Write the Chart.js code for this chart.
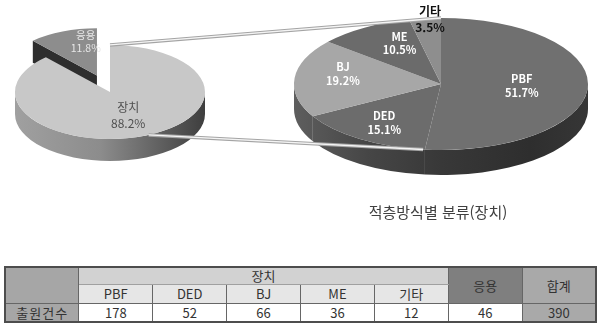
<!DOCTYPE html>
<html lang="ko">
<head>
<meta charset="utf-8">
<script src="https://cdn.jsdelivr.net/npm/chart.js@4"></script>
<style>
    html, body { margin: 0; padding: 0; background: #fff; }
    body { width: 600px; height: 326px; position: relative; overflow: hidden; font-family: "Noto Sans CJK KR", "Noto Sans", sans-serif; }
    .chart-box { position: absolute; left: 0; top: 0; width: 600px; height: 240px; }
    #left-box { z-index: 2; pointer-events: none; }
    #title { position: absolute; left: 338px; top: 202px; width: 200px; text-align: center; font-size: 15px; line-height: 20px; color: #404040; z-index: 3; }
    #tbl { position: absolute; left: 4px; top: 266px; width: 593px; border-collapse: collapse; table-layout: fixed; border: 2px solid #4d4d4d; font-size: 13px; color: #333; z-index: 3; }
    #tbl td { border: 1px solid #666; text-align: center; padding: 0; line-height: 14px; background: #fff; overflow: hidden; }
    #tbl tr.r1 td { height: 16px; }
    #tbl tr.r2 td { height: 18px; }
    #tbl tr.r3 td { height: 17px; }
    #tbl td.corner { background: #a6a6a6; }
    #tbl td.grp { background: #d2d2d2; border-bottom-color: #a0a0a0; }
    #tbl td.sub { background: #e6e6e6; }
    #tbl td.app { background: #7f7f7f; }
    #tbl td.sum { background: #a9a9a9; }
    #tbl td.rowhead { background: #a6a6a6; letter-spacing: 1px; }
</style>
</head>
<body>
<div class="chart-box" id="right-box"><canvas id="rightPie"></canvas></div>
<div class="chart-box" id="left-box"><canvas id="leftPie"></canvas></div>
<div id="title">적층방식별 분류(장치)</div>
<table id="tbl"></table>

<script>
// 데이터 (표 값 기준)
const deviceLabels = ['PBF', 'DED', 'BJ', 'ME', '기타'];
const deviceCounts = [178, 52, 66, 36, 12];
const groupName = '장치';
const appliedName = '응용';
const totalName = '합계';
const rowName = '출원건수';
const appliedCount = 46;
const totalCount = 390;
const splitLabels = [groupName, appliedName];
const splitCounts = [deviceCounts.reduce((a, b) => a + b, 0), appliedCount];

// 색상
const deviceColors = ['#707070', '#6c6c6c', '#a7a7a7', '#6b6b6b', '#8e8e8e'];
const splitColors = ['#c8c8c8', '#8d8d8d'];

// 파이 위치/크기 (레이아웃)
const LEFT = { cx: 110, cy: 92, r: 95, tilt: 0.495, depth: 22 };
const RIGHT = { cx: 441, cy: 84, r: 147, tilt: 0.449, depth: 25 };

const BOX_W = 600, BOX_H = 240;

// 차트 영역 중심을 원하는 위치에 맞추는 padding
function padFor(cx, cy) {
    return {
        left: Math.max(0, 2 * cx - BOX_W), right: Math.max(0, BOX_W - 2 * cx),
        top: Math.max(0, 2 * cy - BOX_H), bottom: Math.max(0, BOX_H - 2 * cy)
    };
}

// 3D 파이 효과 플러그인 (기울이기 + 옆면 + 라벨)
function makePie3d(geo, cfg) {
    return {
        id: 'pie3d',
        afterDatasetsUpdate(chart) {
            const arcs = chart.getDatasetMeta(0).data;
            (cfg.explode || []).forEach((d, i) => {
                if (!d || !arcs[i]) return;
                const mid = (arcs[i].startAngle + arcs[i].endAngle) / 2;
                arcs[i].x += Math.cos(mid) * d;
                arcs[i].y += Math.sin(mid) * d;
            });
        },
        beforeDatasetsDraw(chart) {
            const ctx = chart.ctx;
            const arcs = chart.getDatasetMeta(0).data;
            const k = geo.tilt, depth = geo.depth;
            const cy = (chart.chartArea.top + chart.chartArea.bottom) / 2;
            const cx = (chart.chartArea.left + chart.chartArea.right) / 2;
            const r = arcs[0].outerRadius;
            const grad = ctx.createLinearGradient(cx - r, 0, cx + r, 0);
            cfg.wallStops.forEach(s => grad.addColorStop(s[0], s[1]));

            ctx.save();
            arcs.forEach((arc, i) => {
                const ex = arc.x, ey = cy + (arc.y - cy) * k;
                // 떨어져 나온 조각의 단면
                if (cfg.explode && cfg.explode[i]) {
                    [[arc.startAngle, -1], [arc.endAngle, 1]].forEach(([a, s]) => {
                        const n = a + s * Math.PI / 2;
                        if (Math.sin(n) <= 0) return;
                        const px = ex + Math.cos(a) * r, py = ey + Math.sin(a) * r * k;
                        ctx.beginPath();
                        ctx.moveTo(ex, ey);
                        ctx.lineTo(px, py);
                        ctx.lineTo(px, py + depth);
                        ctx.lineTo(ex, ey + depth);
                        ctx.closePath();
                        ctx.fillStyle = cfg.faceColor;
                        ctx.fill();
                    });
                }
                // 앞쪽 옆면
                const a1 = Math.max(arc.startAngle, 0), a2 = Math.min(arc.endAngle, Math.PI);
                if (a2 > a1) {
                    ctx.beginPath();
                    ctx.ellipse(ex, ey, r, r * k, 0, a1, a2);
                    ctx.ellipse(ex, ey + depth, r, r * k, 0, a2, a1, true);
                    ctx.closePath();
                    ctx.fillStyle = grad;
                    ctx.fill();
                }
            });
            ctx.restore();

            // 윗면은 세로로 눌러서 그림
            ctx.save();
            ctx.translate(0, cy);
            ctx.scale(1, k);
            ctx.translate(0, -cy);
        },
        afterDatasetsDraw(chart) {
            const ctx = chart.ctx;
            ctx.restore();
            const arcs = chart.getDatasetMeta(0).data;
            const data = chart.data.datasets[0].data;
            const total = data.reduce((a, b) => a + b, 0);
            const cy = (chart.chartArea.top + chart.chartArea.bottom) / 2;
            const k = geo.tilt;
            ctx.save();
            ctx.textAlign = 'center';
            ctx.textBaseline = 'middle';
            arcs.forEach((arc, i) => {
                const mid = (arc.startAngle + arc.endAngle) / 2;
                const f = cfg.labelRadius[i];
                const nudge = cfg.labelNudge[i] || [0, 0];
                const x = arc.x + Math.cos(mid) * arc.outerRadius * f + nudge[0];
                const y = cy + (arc.y + Math.sin(mid) * arc.outerRadius * f - cy) * k + nudge[1];
                const pct = (data[i] / total * 100).toFixed(1) + '%';
                const gap = cfg.labelGap[i];
                ctx.fillStyle = cfg.labelColor[i];
                ctx.font = cfg.labelFont[i];
                ctx.fillText(chart.data.labels[i], x, y - gap / 2);
                ctx.fillText(pct, x, y + gap / 2);
            });
            ctx.restore();
        }
    };
}

// 오른쪽 파이 (장치 세부 분류)
const rightChart = new Chart(document.getElementById('rightPie'), {
    type: 'pie',
    data: {
        labels: deviceLabels,
        datasets: [{ data: deviceCounts, backgroundColor: deviceColors, borderWidth: 0 }]
    },
    options: {
        responsive: true,
        maintainAspectRatio: false,
        animation: false,
        events: [],
        radius: RIGHT.r,
        layout: { padding: padFor(RIGHT.cx, RIGHT.cy) },
        plugins: { legend: { display: false }, tooltip: { enabled: false } }
    },
    plugins: [makePie3d(RIGHT, {
        wallStops: [[0, '#5e5e5e'], [0.25, '#464646'], [0.5, '#383838'], [0.8, '#2e2e2e'], [1, '#363636']],
        labelRadius: [0.55, 0.7, 0.67, 0.62, 0.99],
        labelNudge: [[0, 0], [0, 0], [0, -6], [6, -6], [5, 0]],
        labelGap: [14, 14, 14, 13, 16],
        labelColor: ['#fff', '#fff', '#fff', '#fff', '#111'],
        labelFont: ['bold 11px "Noto Sans CJK KR"', 'bold 11px "Noto Sans CJK KR"', 'bold 11px "Noto Sans CJK KR"',
                    'bold 11px "Noto Sans CJK KR"', 'bold 12px "Noto Sans CJK KR"']
    })]
});

// 연결선 플러그인 (왼쪽 파이 -> 오른쪽 파이)
const connectorPlugin = {
    id: 'connectors',
    afterDraw(chart) {
        const ctx = chart.ctx;
        const la = chart.getDatasetMeta(0).data[0];
        const ra = rightChart.getDatasetMeta(0).data[0];
        const pt = (arc, geo, deg) => {
            const a = deg * Math.PI / 180;
            return [arc.x + Math.cos(a) * arc.outerRadius, arc.y + Math.sin(a) * arc.outerRadius * geo.tilt];
        };
        const pairs = [[pt(la, LEFT, -90), pt(ra, RIGHT, -90)], [pt(la, LEFT, 66), pt(ra, RIGHT, 97)]];
        ctx.save();
        ctx.lineCap = 'butt';
        pairs.forEach(([p, q]) => {
            ctx.beginPath();
            ctx.moveTo(p[0], p[1]);
            ctx.lineTo(q[0], q[1]);
            ctx.strokeStyle = '#a4a4a4';
            ctx.lineWidth = 3.4;
            ctx.stroke();
            ctx.strokeStyle = '#f4f4f4';
            ctx.lineWidth = 1.3;
            ctx.stroke();
        });
        ctx.restore();
    }
};

// 왼쪽 파이 (장치 / 응용)
const leftChart = new Chart(document.getElementById('leftPie'), {
    type: 'pie',
    data: {
        labels: splitLabels,
        datasets: [{ data: splitCounts, backgroundColor: splitColors, borderWidth: 0 }]
    },
    options: {
        responsive: true,
        maintainAspectRatio: false,
        animation: false,
        events: [],
        radius: LEFT.r,
        layout: { padding: padFor(LEFT.cx, LEFT.cy) },
        plugins: { legend: { display: false }, tooltip: { enabled: false } }
    },
    plugins: [makePie3d(LEFT, {
        explode: [0, 36],
        faceColor: '#2e2e2e',
        wallStops: [[0, '#a0a0a0'], [0.45, '#8c8c8c'], [0.75, '#626262'], [1, '#3e3e3e']],
        labelRadius: [0.53, 0.5],
        labelNudge: [[0, 0], [6, -12]],
        labelGap: [16, 13],
        labelColor: ['#505050', '#e6e6e6'],
        labelFont: ['12px "Noto Sans CJK KR"', '10.5px "Noto Sans CJK KR"']
    }), connectorPlugin]
});

// 표 만들기
function buildTable() {
    const t = document.getElementById('tbl');
    let html = '<tr class="r1"><td class="corner" rowspan="2"></td>' +
        '<td class="grp" colspan="' + deviceLabels.length + '">' + groupName + '</td>' +
        '<td class="app" rowspan="2">' + appliedName + '</td>' +
        '<td class="sum" rowspan="2">' + totalName + '</td></tr>';
    html += '<tr class="r2">' + deviceLabels.map(l => '<td class="sub">' + l + '</td>').join('') + '</tr>';
    html += '<tr class="r3"><td class="rowhead">' + rowName + '</td>' +
        deviceCounts.map(v => '<td>' + v + '</td>').join('') +
        '<td>' + appliedCount + '</td><td class="sum">' + totalCount + '</td></tr>';
    t.innerHTML = html;
}
buildTable();
</script>
</body>
</html>
